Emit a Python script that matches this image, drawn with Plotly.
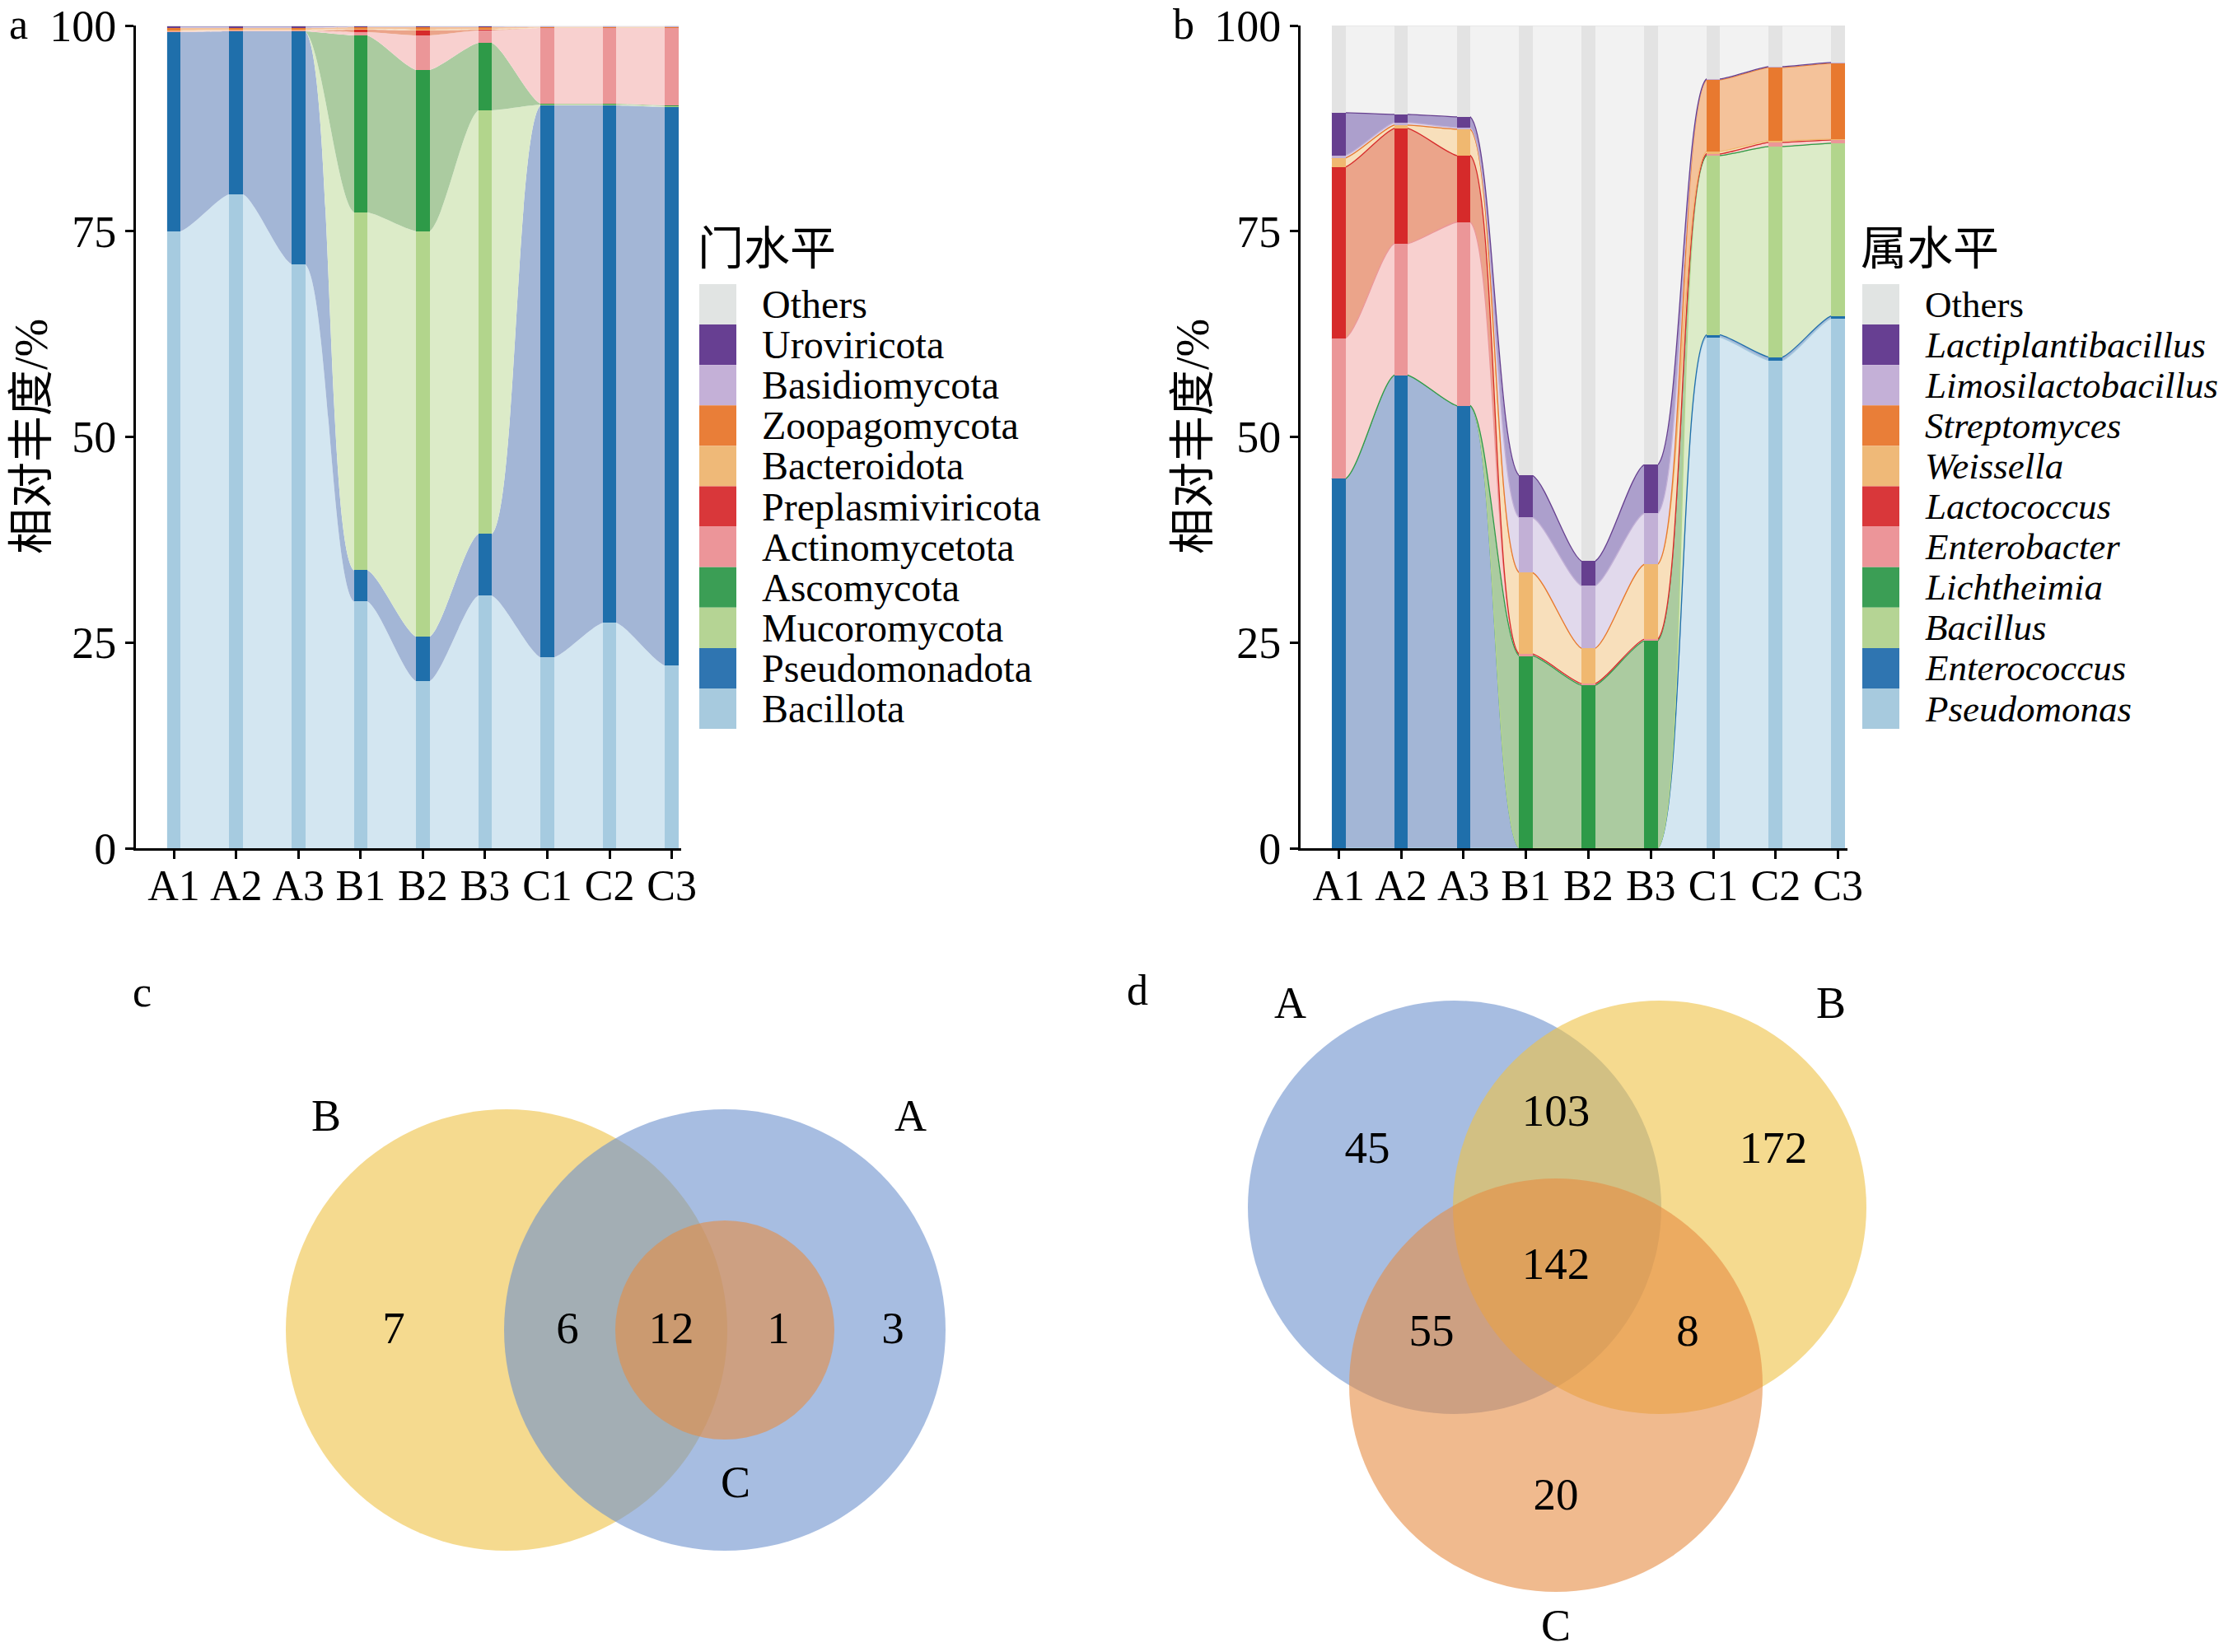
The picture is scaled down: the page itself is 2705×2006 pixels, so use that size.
import numpy as np
import plotly.graph_objects as go

# ---------------- data ----------------
samples = ["A1", "A2", "A3", "B1", "B2", "B3", "C1", "C2", "C3"]

# panel a: phylum level (bottom -> top)
phylum_names = ["Bacillota", "Pseudomonadota", "Mucoromycota", "Ascomycota", "Actinomycetota",
                "Preplasmiviricota", "Bacteroidota", "Zoopagomycota", "Basidiomycota", "Uroviricota", "Others"]
bacillota = [75.0, 79.5, 71.0, 30.0, 20.3, 30.7, 23.2, 27.4, 22.2]
pseudomonadota = [24.2, 19.8, 28.3, 3.8, 5.4, 7.5, 67.1, 62.9, 67.9]
mucoromycota = [0.0, 0.0, 0.0, 43.5, 49.3, 51.5, 0.1, 0.1, 0.1]
ascomycota = [0.0, 0.0, 0.0, 21.5, 19.6, 8.2, 0.1, 0.1, 0.1]
actinomycetota = [0.1, 0.1, 0.1, 0.4, 4.2, 1.5, 9.2, 9.2, 9.4]
preplasmiviricota = [0.0, 0.0, 0.0, 0.3, 0.6, 0.1, 0.0, 0.0, 0.0]
bacteroidota = [0.1, 0.1, 0.1, 0.1, 0.1, 0.1, 0.05, 0.05, 0.05]
zoopagomycota = [0.3, 0.2, 0.2, 0.2, 0.3, 0.2, 0.1, 0.1, 0.1]
basidiomycota = [0.05, 0.05, 0.05, 0.05, 0.05, 0.05, 0.05, 0.05, 0.05]
uroviricota = [0.15, 0.15, 0.15, 0.05, 0.05, 0.05, 0.0, 0.0, 0.0]
others_a = [0.1, 0.1, 0.1, 0.1, 0.1, 0.1, 0.1, 0.1, 0.1]

# panel b: genus level (bottom -> top)
genus_names = ["Pseudomonas", "Enterococcus", "Bacillus", "Lichtheimia", "Enterobacter",
               "Lactococcus", "Weissella", "Streptomyces", "Limosilactobacillus", "Lactiplantibacillus", "Others"]
pseudomonas = [0.0, 0.0, 0.0, 0.0, 0.0, 0.0, 62.1, 59.3, 64.4]
enterococcus = [44.9, 57.5, 53.8, 0.0, 0.0, 0.0, 0.3, 0.4, 0.3]
bacillus = [0.0, 0.0, 0.0, 0.0, 0.0, 0.0, 21.8, 25.6, 21.0]
lichtheimia = [0.0, 0.0, 0.0, 23.4, 19.8, 25.2, 0.0, 0.0, 0.0]
enterobacter = [17.1, 16.0, 22.3, 0.2, 0.2, 0.2, 0.2, 0.5, 0.4]
lactococcus = [20.8, 14.0, 8.1, 0.0, 0.0, 0.0, 0.0, 0.0, 0.0]
weissella = [1.1, 0.4, 3.2, 9.9, 4.3, 9.1, 0.3, 0.2, 0.1]
streptomyces = [0.0, 0.0, 0.0, 0.0, 0.0, 0.0, 8.7, 8.9, 9.2]
limosilactobacillus = [0.3, 0.3, 0.2, 6.7, 7.6, 6.2, 0.1, 0.1, 0.1]
lactiplantibacillus = [5.2, 1.0, 1.3, 5.1, 3.0, 5.9, 0.0, 0.0, 0.0]
others_b = [10.6, 10.8, 11.1, 54.7, 65.1, 53.4, 6.5, 5.0, 4.5]

y_ticks = [0, 25, 50, 75, 100]

# Venn counts
venn_c_regions = ["B", "AB", "ABC", "AC", "A"]
venn_c_counts = [7, 6, 12, 1, 3]
venn_d_regions = ["A", "AB", "B", "ABC", "AC", "BC", "C"]
venn_d_counts = [45, 103, 172, 142, 55, 8, 20]

# ---------------- styles / layout constants ----------------
W, H = 2705, 2006
SERIF = "Liberation Serif, Times New Roman, serif"
CJK = "Liberation Serif, Noto Sans CJK SC, serif"

bar_colors = ["#a6cbe0", "#1f6fab", "#b2d58c", "#2e9a48", "#eb9698", "#d62a2a",
              "#f0b870", "#e8792f", "#c2b0d6", "#663f8f", "#e3e3e3"]
area_colors = ["#d3e6f1", "#a3b6d6", "#dcebc8", "#abcba0", "#f8d0cf", "#eba48a",
               "#f8dfbb", "#f4c29a", "#e1d9ec", "#ac9fcc", "#f2f2f2"]
legend_colors = ["#a7cade", "#2f75b1", "#b5d494", "#3b9e55", "#ec9599", "#d9373a",
                 "#efb978", "#e97e38", "#c4b0d7", "#673f92", "#e1e4e3"]

BAR_W = 0.22
X_RANGE = [0.39, 9.15]


def px_x(p):
    return p / W


def px_y(p):
    return 1 - p / H


fig = go.Figure()


def add_panel(series, names, xa, ya, xo, yo, line_w):
    arr = np.array(series, dtype=float)
    cum = np.cumsum(arr, axis=0)
    pos = np.arange(1, len(samples) + 1)
    xs = np.column_stack([pos - BAR_W / 2, pos + BAR_W / 2]).ravel()
    for k in range(len(series)):
        ys = np.repeat(cum[k], 2)
        fig.add_trace(go.Scatter(
            x=xs, y=ys, mode="lines", xaxis=xa, yaxis=ya,
            line=dict(shape="spline", smoothing=1.0, width=line_w,
                      color=bar_colors[k] if line_w > 0 else area_colors[k]),
            fill="tozeroy" if k == 0 else "tonexty", fillcolor=area_colors[k],
            showlegend=False, hoverinfo="skip", name=names[k]))
    for k in range(len(series)):
        fig.add_trace(go.Bar(
            x=pos, y=arr[k], width=BAR_W, xaxis=xo, yaxis=yo,
            marker=dict(color=bar_colors[k], line=dict(width=0)),
            showlegend=False, name=names[k]))


series_a = [bacillota, pseudomonadota, mucoromycota, ascomycota, actinomycetota, preplasmiviricota,
            bacteroidota, zoopagomycota, basidiomycota, uroviricota, others_a]
series_b = [pseudomonas, enterococcus, bacillus, lichtheimia, enterobacter, lactococcus,
            weissella, streptomyces, limosilactobacillus, lactiplantibacillus, others_b]

add_panel(series_a, phylum_names, "x", "y", "x5", "y5", 0)
add_panel(series_b, genus_names, "x2", "y2", "x6", "y6", 1.3)

# ---------------- Venn diagrams (pixel-space overlay axis) ----------------
venn_c_geom = {  # circles: (cx, cy, r) in px
    "B": (615, 1615, 268), "A": (880, 1615, 268), "C": (880, 1615, 133)}
venn_c_label_pos = [(478, 1617), (689, 1617), (815, 1617), (945, 1617), (1084, 1617)]
venn_c_set_labels = [("B", 396, 1355), ("A", 1105, 1355), ("C", 893, 1800)]

venn_d_geom = {"A": (1766, 1466, 251), "B": (2015, 1466, 251), "C": (1889, 1682, 251)}
venn_d_label_pos = [(1660, 1398), (1889, 1353), (2153, 1398), (1889, 1539),
                    (1738, 1620), (2049, 1620), (1889, 1819)]
venn_d_set_labels = [("A", 1566, 1218), ("B", 2223, 1218), ("C", 1889, 1974)]

set_colors = {"A": "rgb(108,145,205)", "B": "rgb(238,193,68)", "C": "rgb(230,140,67)"}

shapes = []
for order, geom in ((["B", "A", "C"], venn_c_geom), (["A", "B", "C"], venn_d_geom)):
    for s in order:
        cx, cy, r = geom[s]
        shapes.append(dict(type="circle", xref="x7", yref="y7", layer="below",
                           x0=cx - r, x1=cx + r, y0=cy - r, y1=cy + r,
                           fillcolor=set_colors[s], opacity=0.6, line=dict(width=0)))

fig.add_trace(go.Scatter(
    x=[p[0] for p in venn_c_label_pos] + [p[0] for p in venn_d_label_pos],
    y=[p[1] for p in venn_c_label_pos] + [p[1] for p in venn_d_label_pos],
    text=[str(v) for v in venn_c_counts + venn_d_counts],
    mode="text", textposition="middle center", xaxis="x7", yaxis="y7",
    textfont=dict(family=SERIF, size=55, color="black"),
    showlegend=False, hoverinfo="skip"))

annotations = []
for lab, x, y in venn_c_set_labels + venn_d_set_labels:
    annotations.append(dict(x=x, y=y, xref="x7", yref="y7", text=lab, showarrow=False,
                            font=dict(family=SERIF, size=54, color="black"),
                            xanchor="center", yanchor="middle"))

# panel letters
for lab, x, y in [("a", 22, 30), ("b", 1437, 30), ("c", 173, 1204), ("d", 1381, 1202)]:
    annotations.append(dict(x=px_x(x), y=px_y(y), xref="paper", yref="paper", text=lab,
                            showarrow=False, xanchor="center", yanchor="middle",
                            font=dict(family=SERIF, size=52, color="black")))

# y-axis titles
for x in (38, 1448):
    annotations.append(dict(x=px_x(x), y=px_y(530), xref="paper", yref="paper",
                            text="相对丰度/%", textangle=-90, showarrow=False,
                            xanchor="center", yanchor="middle",
                            font=dict(family=CJK, size=56, color="black")))

# legends (manual, contiguous swatches)
ROW_TOP, ROW_H = 345, 49.1
for title, names, sx, tx, italic, fsize in (
        ("门水平", phylum_names, 849, 923, False, 48),
        ("属水平", genus_names, 2261, 2335, True, 45)):
    annotations.append(dict(x=px_x(sx - 4), y=px_y(302), xref="paper", yref="paper", text=title,
                            showarrow=False, xanchor="left", yanchor="middle",
                            font=dict(family=CJK, size=56, color="black")))
    order = list(range(len(names)))[::-1]  # Others at top
    for row, k in enumerate(order):
        y0 = ROW_TOP + row * ROW_H
        shapes.append(dict(type="rect", xref="paper", yref="paper",
                           x0=px_x(sx), x1=px_x(sx + 45), y0=px_y(y0 + ROW_H), y1=px_y(y0),
                           fillcolor=legend_colors[k], line=dict(width=0), layer="above"))
        txt = names[k]
        if italic and txt != "Others":
            txt = "<i>" + txt + "</i>"
        annotations.append(dict(x=px_x(tx), y=px_y(y0 + ROW_H / 2), xref="paper", yref="paper",
                                text=txt, showarrow=False, xanchor="left", yanchor="middle",
                                font=dict(family=SERIF, size=fsize, color="black")))

axis_common = dict(showline=True, linecolor="black", linewidth=3, ticks="outside",
                   ticklen=10, tickwidth=3, tickcolor="black", showgrid=False, zeroline=False,
                   fixedrange=True, ticklabeloverflow="allow", automargin=False)
xtick_font = dict(family=SERIF, size=52, color="black")
ytick_font = dict(family=SERIF, size=54, color="black")

ydom = [px_y(1030), px_y(31)]
hidden = dict(visible=False, showgrid=False, zeroline=False, fixedrange=True)

fig.update_layout(
    width=W, height=H, margin=dict(l=0, r=0, t=0, b=0, pad=0, autoexpand=False),
    paper_bgcolor="white", plot_bgcolor="rgba(0,0,0,0)",
    barmode="stack", bargap=0, showlegend=False,
    xaxis=dict(domain=[px_x(165), px_x(827)], range=X_RANGE, anchor="y",
               tickvals=list(range(1, 10)), ticktext=samples, tickfont=xtick_font,
               ticklabelstandoff=-12, **axis_common),
    yaxis=dict(domain=ydom, range=[0, 100], anchor="x", tickvals=y_ticks,
               tickfont=ytick_font, **axis_common),
    xaxis2=dict(domain=[px_x(1579), px_x(2243)], range=X_RANGE, anchor="y2",
                tickvals=list(range(1, 10)), ticktext=samples, tickfont=xtick_font,
                ticklabelstandoff=-12, **axis_common),
    yaxis2=dict(domain=ydom, range=[0, 100], anchor="x2", tickvals=y_ticks,
                tickfont=ytick_font, **axis_common),
    xaxis5=dict(overlaying="x", range=X_RANGE, anchor="y5", **hidden),
    yaxis5=dict(overlaying="y", range=[0, 100], anchor="x5", **hidden),
    xaxis6=dict(overlaying="x2", range=X_RANGE, anchor="y6", **hidden),
    yaxis6=dict(overlaying="y2", range=[0, 100], anchor="x6", **hidden),
    xaxis7=dict(domain=[0, 1], range=[0, W], anchor="y7", **hidden),
    yaxis7=dict(domain=[0, 1], range=[H, 0], anchor="x7", **hidden),
    shapes=shapes, annotations=annotations,
)

fig.write_html("out.html", config={"displayModeBar": False},
               post_script="document.body.style.margin='0px';")
